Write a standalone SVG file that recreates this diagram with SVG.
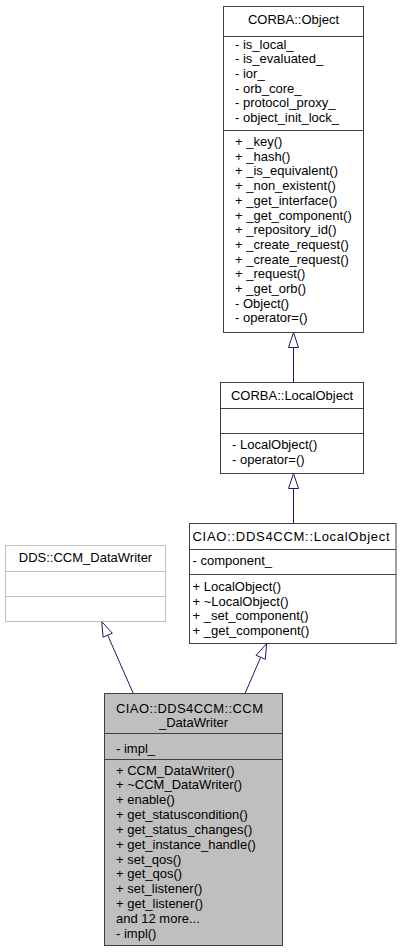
<svg xmlns="http://www.w3.org/2000/svg" width="401" height="952" viewBox="0 0 401 952">
<style>
text{font-family:"Liberation Sans",Arial,Helvetica,sans-serif;font-size:13px;fill:#000}
.t{text-anchor:middle}
.box{fill:#fff;stroke:#404040;stroke-width:1}
.sep{stroke:#404040;stroke-width:1}
.gbox{fill:#fff;stroke:#bfbfbf;stroke-width:1}
.gsep{stroke:#bfbfbf;stroke-width:1}
.cur{fill:#bfbfbf;stroke:#404040;stroke-width:1}
.edge{stroke:#191970;stroke-width:1;fill:none}
.head{stroke:#191970;stroke-width:1;fill:#fff}
</style>
<rect width="401" height="952" fill="#fff"/>
<g id="connectors">
<line class="edge" x1="293.5" y1="347.5" x2="293.5" y2="382.5"/>
<polygon class="head" points="293.5,332.5 288.5,347.5 298.5,347.5"/>
<line class="edge" x1="293.5" y1="488.5" x2="293.5" y2="523.5"/>
<polygon class="head" points="293.5,473.5 288.5,488.5 298.5,488.5"/>
<line class="edge" x1="107.7" y1="635.2" x2="133.3" y2="693.5"/>
<polygon class="head" points="101.7,621.5 112.3,633.2 103.1,637.2"/>
<line class="edge" x1="260.7" y1="657.3" x2="245" y2="693.5"/>
<polygon class="head" points="266.7,643.5 265.3,659.3 256.1,655.3"/>
</g>
<g id="corba_object">
<rect class="box" x="223.5" y="6.5" width="140" height="326"/>
<line class="sep" x1="223.5" y1="36.5" x2="363.5" y2="36.5"/>
<line class="sep" x1="223.5" y1="130.5" x2="363.5" y2="130.5"/>
<text class="t" x="293.5" y="24">CORBA::Object</text>
<text x="235" y="48.5">- is_local_</text>
<text x="235" y="63.2">- is_evaluated_</text>
<text x="235" y="77.9">- ior_</text>
<text x="235" y="92.6">- orb_core_</text>
<text x="235" y="107.3">- protocol_proxy_</text>
<text x="235" y="122">- object_init_lock_</text>
<text x="235" y="146">+ _key()</text>
<text x="235" y="160.7">+ _hash()</text>
<text x="235" y="175.4">+ _is_equivalent()</text>
<text x="235" y="190.1">+ _non_existent()</text>
<text x="235" y="204.8">+ _get_interface()</text>
<text x="235" y="219.5">+ _get_component()</text>
<text x="235" y="234.2">+ _repository_id()</text>
<text x="235" y="248.9">+ _create_request()</text>
<text x="235" y="263.6">+ _create_request()</text>
<text x="235" y="278.3">+ _request()</text>
<text x="235" y="293">+ _get_orb()</text>
<text x="235" y="307.7">- Object()</text>
<text x="235" y="322.4">- operator=()</text>
</g>
<g id="corba_localobject">
<rect class="box" x="220.5" y="382.5" width="143" height="91"/>
<line class="sep" x1="220.5" y1="408.5" x2="363.5" y2="408.5"/>
<line class="sep" x1="220.5" y1="433.5" x2="363.5" y2="433.5"/>
<text class="t" x="292" y="400">CORBA::LocalObject</text>
<text x="232" y="449">- LocalObject()</text>
<text x="232" y="463.7">- operator=()</text>
</g>
<g id="ciao_localobject">
<rect class="box" x="189.5" y="523.5" width="206.5" height="120"/>
<line class="sep" x1="189.5" y1="549.5" x2="396" y2="549.5"/>
<line class="sep" x1="189.5" y1="574.5" x2="396" y2="574.5"/>
<text x="192.5" y="541" textLength="197" lengthAdjust="spacing">CIAO::DDS4CCM::LocalObject</text>
<text x="192.5" y="564.5">- component_</text>
<text x="192.5" y="591">+ LocalObject()</text>
<text x="192.5" y="605.7">+ ~LocalObject()</text>
<text x="192.5" y="620.4">+ _set_component()</text>
<text x="192.5" y="635.1">+ _get_component()</text>
</g>
<g id="dds_ccm_datawriter">
<rect class="gbox" x="5.5" y="545.5" width="160" height="76"/>
<line class="gsep" x1="5.5" y1="571.5" x2="165.5" y2="571.5"/>
<line class="gsep" x1="5.5" y1="596.5" x2="165.5" y2="596.5"/>
<text class="t" x="85.5" y="562">DDS::CCM_DataWriter</text>
</g>
<g id="ciao_ccm_datawriter">
<rect class="cur" x="104.5" y="693.5" width="178" height="252"/>
<line class="sep" x1="104.5" y1="733.5" x2="282.5" y2="733.5"/>
<line class="sep" x1="104.5" y1="759.5" x2="282.5" y2="759.5"/>
<text x="116" y="712.5" textLength="147" lengthAdjust="spacing">CIAO::DDS4CCM::CCM</text>
<text class="t" x="193.5" y="727">_DataWriter</text>
<text x="116" y="752.5">- impl_</text>
<text x="116" y="774.5">+ CCM_DataWriter()</text>
<text x="116" y="789.35">+ ~CCM_DataWriter()</text>
<text x="116" y="804.2">+ enable()</text>
<text x="116" y="819.05">+ get_statuscondition()</text>
<text x="116" y="833.9">+ get_status_changes()</text>
<text x="116" y="848.75">+ get_instance_handle()</text>
<text x="116" y="863.6">+ set_qos()</text>
<text x="116" y="878.45">+ get_qos()</text>
<text x="116" y="893.3">+ set_listener()</text>
<text x="116" y="908.15">+ get_listener()</text>
<text x="116" y="923">and 12 more...</text>
<text x="116" y="937.85">- impl()</text>
</g>
</svg>
